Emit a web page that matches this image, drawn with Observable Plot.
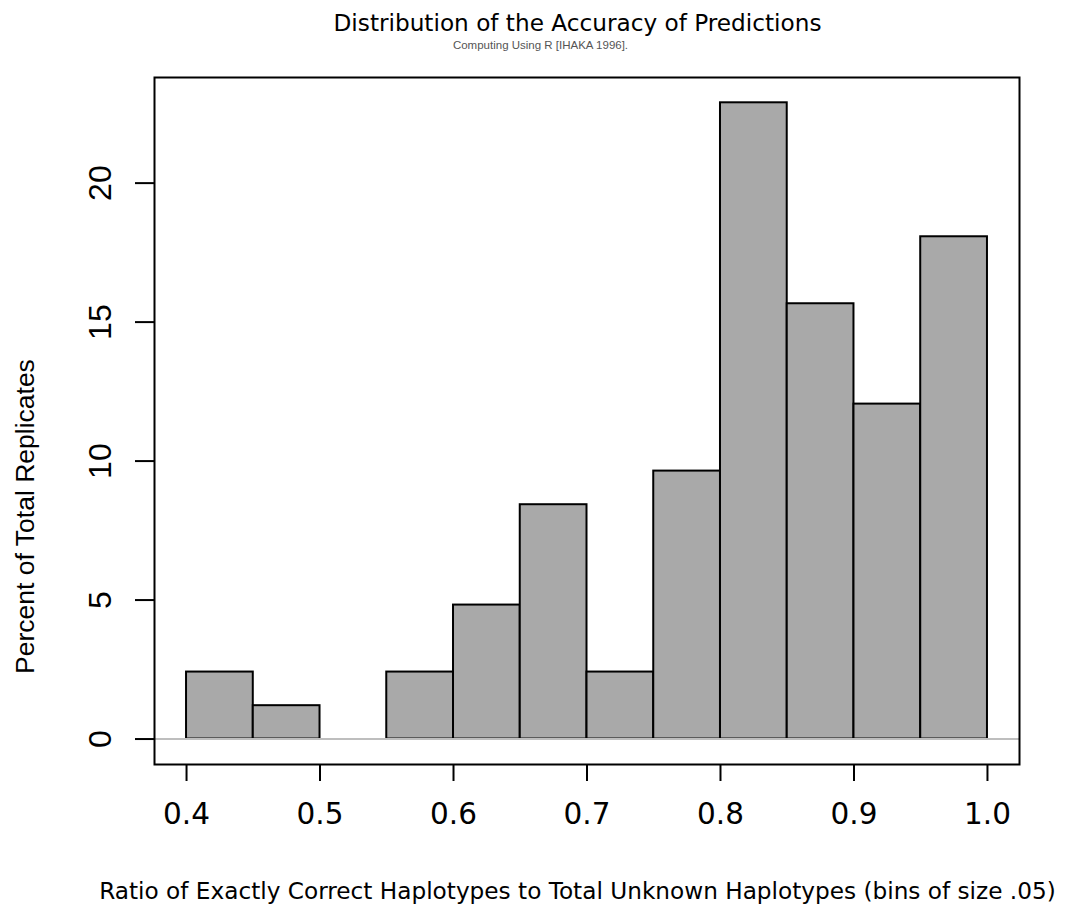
<!DOCTYPE html>
<html><head><meta charset="utf-8">
<script src="https://cdn.jsdelivr.net/npm/d3@7"></script>
<script src="https://cdn.jsdelivr.net/npm/@observablehq/plot@0.6"></script>
<style>body{margin:0;background:#fff}</style>
</head><body><div id="chart"></div>
<script>
// Histogram bins (ratio) and percent of total replicates
const binLeft  = [0.40, 0.45, 0.50, 0.55, 0.60, 0.65, 0.70, 0.75, 0.80, 0.85, 0.90, 0.95];
const binRight = [0.45, 0.50, 0.55, 0.60, 0.65, 0.70, 0.75, 0.80, 0.85, 0.90, 0.95, 1.00];
const percent  = [2.41, 1.20, 0.00, 2.41, 4.82, 8.43, 2.41, 9.64, 22.89, 15.66, 12.05, 18.07];

const xTicks = [0.4, 0.5, 0.6, 0.7, 0.8, 0.9, 1.0];
const xTickLabels = ["0.4", "0.5", "0.6", "0.7", "0.8", "0.9", "1.0"];
const yTicks = [0, 5, 10, 15, 20];
const yTickLabels = ["0", "5", "10", "15", "20"];

const titleText = "Distribution of the Accuracy of Predictions";
const subtitleText = "Computing Using R [IHAKA 1996].";
const xLabelText = "Ratio of Exactly Correct Haplotypes to Total Unknown Haplotypes (bins of size .05)";
const yLabelText = "Percent of Total Replicates";

const bins = binLeft.map((x1, i) => ({x1, x2: binRight[i], pct: percent[i]}));
const yTickData = yTicks.map((v, i) => ({v, label: yTickLabels[i]}));

const WIDE = "DejaVu Sans";
const HELV = "Liberation Sans, Arial, sans-serif";

const chart = Plot.plot({
  width: 1068,
  height: 909,
  marginLeft: 154,
  marginRight: 49,
  marginTop: 77,
  marginBottom: 145,
  x: {domain: [0.376, 1.024]},
  y: {domain: [-0.916, 23.8]},
  style: {background: "#fff", color: "#000"},
  marks: [
    Plot.rect(bins, {x1: "x1", x2: "x2", y1: d => 0, y2: "pct", fill: "#a9a9a9", stroke: "#000", strokeWidth: 2}),
    Plot.ruleY([0], {stroke: "#bebebe", strokeWidth: 2}),
    Plot.frame({stroke: "#000", strokeWidth: 2}),
    Plot.axisX({
      ticks: xTicks, tickSize: 17, tickPadding: 22, strokeWidth: 2, label: null,
      tickFormat: d => xTickLabels[xTicks.indexOf(d)],
      fontSize: 29.5, fontFamily: WIDE
    }),
    Plot.axisY({
      ticks: yTicks, tickSize: 19, strokeWidth: 2, label: null,
      tickFormat: () => ""
    }),
    Plot.text(yTickData, {
      y: "v", text: "label", frameAnchor: "left", rotate: -90,
      textAnchor: "middle", lineAnchor: "bottom", dx: -44,
      fontSize: 32, fontFamily: HELV
    }),
    Plot.text([titleText], {
      text: d => d, frameAnchor: "top", lineAnchor: "bottom",
      dx: -9.5, dy: -46.5, fontSize: 23.2, fontFamily: WIDE
    }),
    Plot.text([subtitleText], {
      text: d => d, frameAnchor: "top", lineAnchor: "bottom",
      dx: -46.5, dy: -29, fontSize: 11.5, fontFamily: HELV, fill: "#555"
    }),
    Plot.text([xLabelText], {
      text: d => d, frameAnchor: "bottom", lineAnchor: "bottom",
      dx: -9.5, dy: 134, fontSize: 23.2, fontFamily: WIDE
    }),
    Plot.text([yLabelText], {
      text: d => d, frameAnchor: "left", lineAnchor: "bottom", rotate: -90,
      textAnchor: "middle", dx: -120.7, dy: 95.5, fontSize: 26.5, fontFamily: HELV
    })
  ]
});
document.getElementById("chart").appendChild(chart);
</script>
</body></html>
